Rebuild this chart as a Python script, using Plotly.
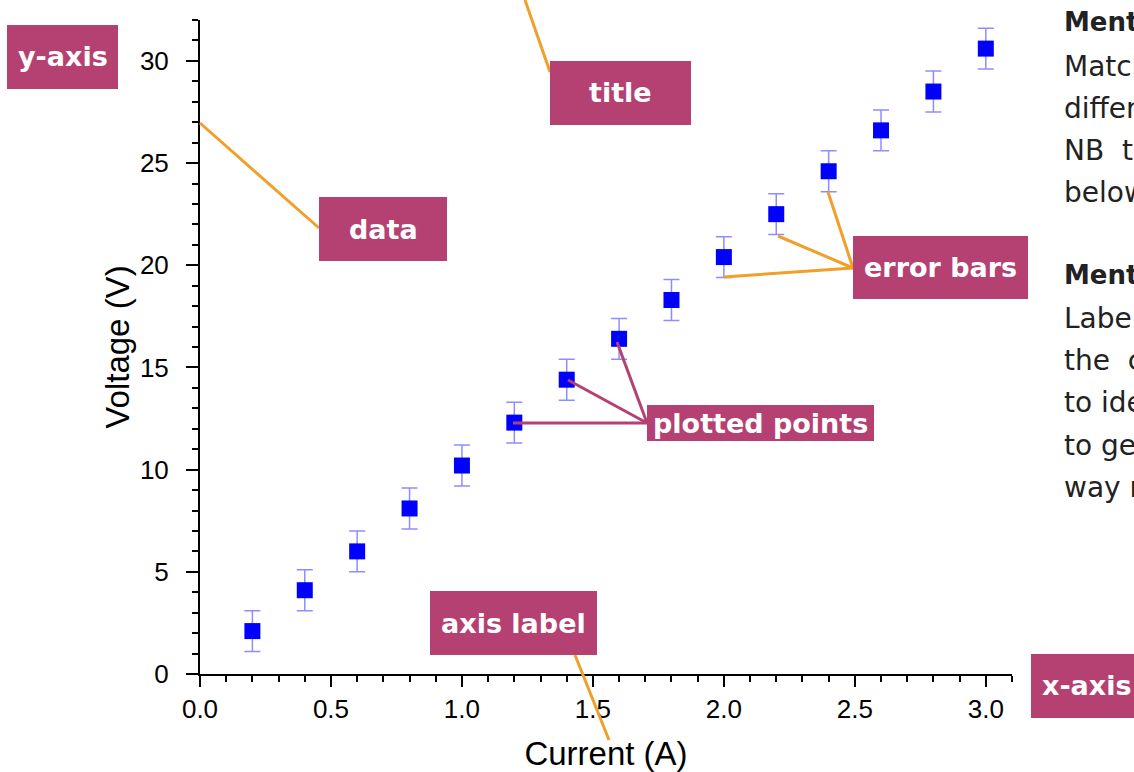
import plotly.graph_objects as go

# ---- data ----
current = [0.2, 0.4, 0.6, 0.8, 1.0, 1.2, 1.4, 1.6, 1.8, 2.0, 2.2, 2.4, 2.6, 2.8, 3.0]
voltage = [2.1, 4.1, 6.0, 8.1, 10.2, 12.3, 14.4, 16.4, 18.3, 20.4, 22.5, 24.6, 26.6, 28.5, 30.6]
voltage_err = [1.0] * len(current)

x_title = "Current (A)"
y_title = "Voltage (V)"

W, H = 1134, 772
L, R, T, B = 200, 122, 20, 98
PW, PH = W - L - R, H - T - B

def px(x):
    # pixel x -> paper coordinate
    return (x - L) / PW

def py(y):
    # pixel y -> paper coordinate
    return (H - B - y) / PH

MAGENTA = "#B54072"
ORANGE = "#F0A02A"

fig = go.Figure()
fig.add_trace(go.Scatter(
    x=current, y=voltage, mode="markers",
    marker=dict(symbol="square", size=16, color="#0000FF"),
    error_y=dict(type="data", array=voltage_err, visible=True,
                 color="rgba(80,80,255,0.65)", thickness=1.5, width=8),
    showlegend=False,
))

axis_font = dict(family="Liberation Sans, Arial, sans-serif", size=26, color="black")
title_font = dict(family="Liberation Sans, Arial, sans-serif", size=33, color="black")

fig.update_xaxes(
    range=[0, 3.1], dtick=0.5, tick0=0, tickformat=".1f",
    showline=True, linecolor="black", linewidth=2,
    ticks="outside", ticklen=11, tickwidth=2, tickcolor="black",
    minor=dict(dtick=0.1, ticks="outside", ticklen=6, tickwidth=2, tickcolor="black"),
    showgrid=False, zeroline=False, tickfont=axis_font, automargin=False,
    title=dict(text=x_title, font=title_font, standoff=29),
)
fig.update_yaxes(
    range=[0, 32], dtick=5, tick0=0,
    showline=True, linecolor="black", linewidth=2,
    ticks="outside", ticklen=12, tickwidth=2, tickcolor="black",
    minor=dict(dtick=1, ticks="outside", ticklen=6, tickwidth=2, tickcolor="black"),
    showgrid=False, zeroline=False, tickfont=axis_font, automargin=False,
    ticklabelstandoff=12,
    title=dict(text=y_title, font=title_font, standoff=0),
)

shapes = []
annotations = []

def line(x0, y0, x1, y1, color, width=3):
    shapes.append(dict(type="line", xref="paper", yref="paper",
                       x0=px(x0), y0=py(y0), x1=px(x1), y1=py(y1),
                       line=dict(color=color, width=width), layer="above"))

def box(x0, y0, x1, y1, text, tx=None):
    shapes.append(dict(type="rect", xref="paper", yref="paper",
                       x0=px(x0), y0=py(y1), x1=px(x1), y1=py(y0),
                       fillcolor=MAGENTA, line=dict(width=0), layer="above"))
    cx = (x0 + x1) / 2 if tx is None else tx
    annotations.append(dict(xref="paper", yref="paper",
                            x=px(cx), y=py((y0 + y1) / 2),
                            text=f"<b>{text}</b>", showarrow=False,
                            xanchor="center", yanchor="middle",
                            font=dict(family="DejaVu Sans", size=27, color="white")))

# callout lines
line(525, 0, 550, 72, ORANGE)
line(200, 123, 319, 228, ORANGE)
line(853, 268, 828, 192, ORANGE)
line(853, 268, 778, 236, ORANGE)
line(853, 268, 724, 277, ORANGE)
line(575, 655, 609, 740, ORANGE)
line(647, 423, 513, 423, MAGENTA)
line(647, 423, 568, 380, MAGENTA)
line(647, 423, 617, 342, MAGENTA)

# boxes
box(7, 25, 118, 89, "y-axis")
box(550, 61, 691, 125, "title")
box(319, 197, 447, 261, "data")
box(853, 236, 1028, 299, "error bars")
box(647, 405, 874, 441, "plotted points")
box(430, 591, 597, 655, "axis label")
box(1031, 654, 1180, 718, "x-axis", tx=1087)

# side text (cut off at the right edge, as in the reference)
side_lines = [
    ("<b>Mentor</b>", 22, 26), ("Match", 66, 28), ("different", 108, 28),
    ("NB\u00a0\u00a0the", 150, 28), ("below", 192, 28), ("<b>Mentor</b>", 275, 26),
    ("Labels", 318, 28), ("the\u00a0\u00a0co", 360, 28), ("to identify", 402, 28),
    ("to get", 445, 28), ("way may", 487, 28),
]
for txt, yy, fs in side_lines:
    annotations.append(dict(xref="paper", yref="paper", x=px(1062), y=py(yy),
                            text=txt, showarrow=False, xanchor="left", yanchor="middle",
                            font=dict(family="DejaVu Sans", size=fs, color="#222222")))

fig.update_layout(
    width=W, height=H,
    margin=dict(l=L, r=R, t=T, b=B, pad=0, autoexpand=False),
    plot_bgcolor="white", paper_bgcolor="white",
    shapes=shapes, annotations=annotations,
)

# remove the default 8px page margin so the figure fills the window exactly
fig.write_html("out.html",
               config={"displayModeBar": False},
               post_script="document.body.style.margin='0';document.body.style.overflow='hidden';")
